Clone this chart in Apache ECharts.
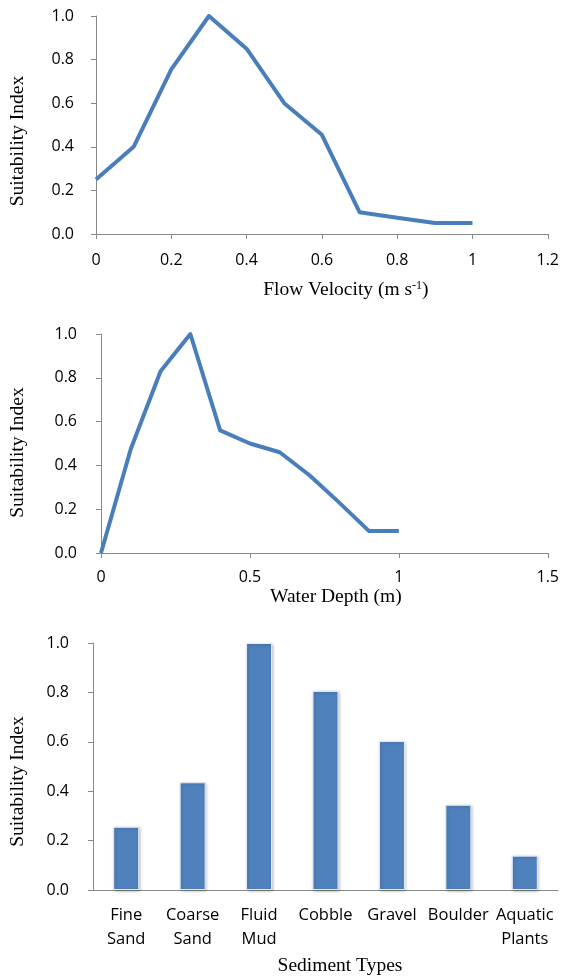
<!DOCTYPE html>
<html>
<head>
<meta charset="utf-8">
<script src="https://cdn.jsdelivr.net/npm/echarts@6/dist/echarts.min.js"></script>
<style>
  html, body { margin: 0; padding: 0; background: #fff; }
  #main { width: 562px; height: 977px; }
</style>
</head>
<body>
<div id="main"></div>
<script>
// flow velocity curve
var velocityX = [0, 0.1, 0.2, 0.3, 0.4, 0.5, 0.6, 0.7, 0.8, 0.9, 1.0];
var velocitySI = [0.25, 0.40, 0.755, 1.0, 0.85, 0.60, 0.455, 0.10, 0.075, 0.05, 0.05];

// water depth curve
var depthX = [0, 0.1, 0.2, 0.3, 0.4, 0.5, 0.6, 0.7, 0.8, 0.9, 1.0];
var depthSI = [0, 0.475, 0.83, 1.0, 0.56, 0.50, 0.46, 0.355, 0.23, 0.10, 0.10];

// sediment bars
var sedimentTypes = ['Fine\nSand', 'Coarse\nSand', 'Fluid\nMud', 'Cobble', 'Gravel', 'Boulder', 'Aquatic\nPlants'];
var sedimentSI = [0.256, 0.436, 1.0, 0.806, 0.603, 0.345, 0.139];

var sans = 'Open Sans';
var serif = 'Liberation Serif';
var axisGray = '#898989';
var lineBlue = '#4a7ebb';
var barBlue = '#4f81bd';

function pairs(xs, ys) {
    var out = [];
    for (var i = 0; i < xs.length; i++) out.push([xs[i], ys[i]]);
    return out;
}

// shift is how far the title sits below the middle of the axis
function yAxisCfg(idx, gap, margin, shift) {
    return {
        type: 'value',
        gridIndex: idx,
        min: 0,
        max: 1,
        interval: 0.2,
        name: 'Suitability Index',
        nameLocation: 'middle',
        nameGap: gap,
        nameTextStyle: { fontFamily: serif, fontSize: 19.5, color: '#000', padding: [0, shift * 2, 0, 0] },
        axisLine: { show: true, lineStyle: { color: axisGray, width: 1 } },
        axisTick: { show: true, length: 5, lineStyle: { color: axisGray } },
        splitLine: { show: false },
        axisLabel: {
            margin: margin,
            fontFamily: sans,
            fontSize: 16,
            color: '#000',
            formatter: function (v) { return v.toFixed(1); }
        }
    };
}

var myChart = echarts.init(document.getElementById('main'));

var option = {
    animation: false,
    backgroundColor: '#fff',
    grid: [
        { left: 96, right: 14, top: 16, height: 218 },
        { left: 101, right: 13, top: 334, height: 219 },
        { left: 93, right: 4, top: 643, height: 247 }
    ],
    xAxis: [
        {
            type: 'value',
            gridIndex: 0,
            min: 0,
            max: 1.2,
            interval: 0.2,
            name: 'Flow Velocity (m s{sup|-1})',
            nameLocation: 'middle',
            nameGap: 46,
            nameTextStyle: {
                fontFamily: serif, fontSize: 19.5, color: '#000', padding: [0, 0, 0, 48],
                rich: { sup: { fontFamily: serif, fontSize: 12, color: '#000', verticalAlign: 'top', padding: [0, 0, 8, 0] } }
            },
            axisLine: { lineStyle: { color: axisGray, width: 1 } },
            axisTick: { length: 5, lineStyle: { color: axisGray } },
            splitLine: { show: false },
            axisLabel: { margin: 18, fontFamily: sans, fontSize: 16, color: '#000' }
        },
        {
            type: 'value',
            gridIndex: 1,
            min: 0,
            max: 1.5,
            interval: 0.5,
            name: 'Water Depth (m)',
            nameLocation: 'middle',
            nameGap: 34,
            nameTextStyle: { fontFamily: serif, fontSize: 19.5, color: '#000', padding: [0, 0, 0, 23] },
            axisLine: { lineStyle: { color: axisGray, width: 1 } },
            axisTick: { length: 5, lineStyle: { color: axisGray } },
            splitLine: { show: false },
            axisLabel: { margin: 16, fontFamily: sans, fontSize: 16, color: '#000' }
        },
        {
            type: 'category',
            gridIndex: 2,
            data: sedimentTypes,
            name: 'Sediment Types',
            nameLocation: 'middle',
            nameGap: 66,
            nameTextStyle: { fontFamily: serif, fontSize: 19.5, color: '#000', padding: [0, 0, 0, 29] },
            axisLine: { lineStyle: { color: axisGray, width: 1 } },
            axisTick: { length: 6, lineStyle: { color: axisGray } },
            axisLabel: { margin: 13, fontFamily: sans, fontSize: 16.5, lineHeight: 24, color: '#000', interval: 0 }
        }
    ],
    yAxis: [
        yAxisCfg(0, 68, 22, 16),
        yAxisCfg(1, 73, 24, 9),
        yAxisCfg(2, 65, 24, 15)
    ],
    series: [
        {
            name: 'Flow Velocity',
            type: 'line',
            xAxisIndex: 0,
            yAxisIndex: 0,
            data: pairs(velocityX, velocitySI),
            showSymbol: false,
            clip: false,
            lineStyle: { color: lineBlue, width: 4, join: 'round' }
        },
        {
            name: 'Water Depth',
            type: 'line',
            xAxisIndex: 1,
            yAxisIndex: 1,
            data: pairs(depthX, depthSI),
            showSymbol: false,
            clip: false,
            lineStyle: { color: lineBlue, width: 4, join: 'round' }
        },
        {
            name: 'Sediment',
            type: 'bar',
            xAxisIndex: 2,
            yAxisIndex: 2,
            data: sedimentSI,
            barWidth: 26,
            itemStyle: {
                color: barBlue,
                borderColor: '#e6ecf5',
                borderWidth: 1,
                shadowColor: 'rgba(0,0,0,0.25)',
                shadowBlur: 3,
                shadowOffsetX: 1,
                shadowOffsetY: 1
            }
        }
    ]
};

myChart.setOption(option);
</script>
</body>
</html>
